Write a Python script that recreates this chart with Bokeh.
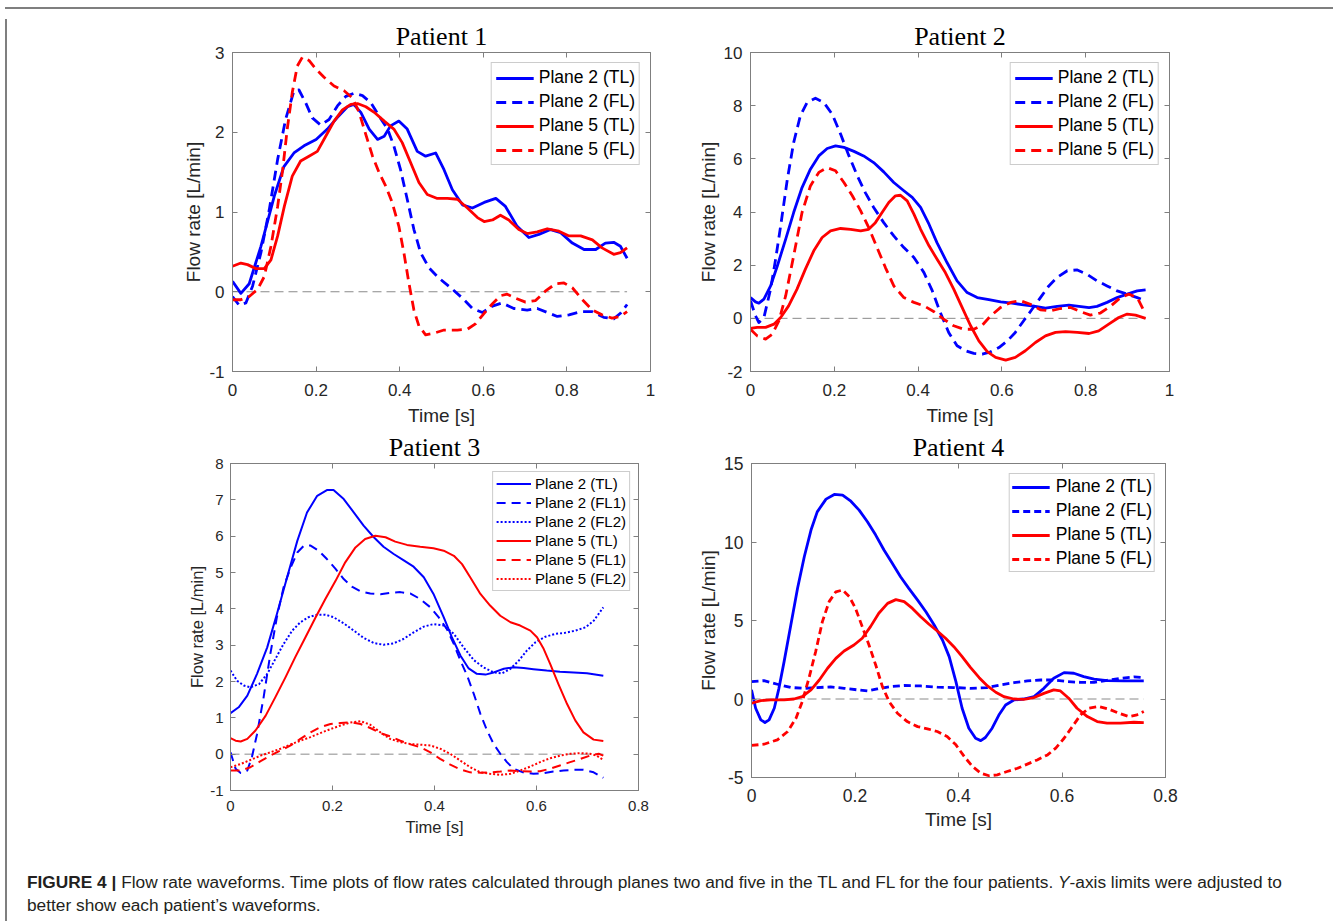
from bokeh.plotting import figure
from bokeh.models import Range1d, FixedTicker, LinearAxis, Title, Div, Spacer
from bokeh.layouts import column, row
from bokeh.embed import file_html
from bokeh.resources import INLINE

SANS = "Liberation Sans"
SERIF = "Liberation Serif"
AXC = "#7f7f7f"
TXT = "#262626"
BLUE = "#0000ff"
RED = "#ff0000"
ZERO_LEVEL = 0.0

# ---------------- data (time [s], flow rate [L/min]) ----------------
p1_p2tl = [(0, 0.13), (0.02, -0.02), (0.04, 0.1), (0.068, 0.57), (0.1, 1.2), (0.123, 1.57), (0.147, 1.74), (0.171, 1.83), (0.2, 1.91), (0.227, 2.04), (0.25, 2.18), (0.275, 2.32), (0.29, 2.35), (0.307, 2.25), (0.327, 2.04), (0.347, 1.91), (0.363, 1.95), (0.378, 2.08), (0.398, 2.14), (0.418, 2.04), (0.442, 1.76), (0.462, 1.70), (0.486, 1.74), (0.506, 1.53), (0.526, 1.28), (0.55, 1.09), (0.574, 1.05), (0.602, 1.12), (0.63, 1.17), (0.653, 1.07), (0.681, 0.82), (0.709, 0.68), (0.733, 0.72), (0.761, 0.78), (0.785, 0.74), (0.813, 0.61), (0.841, 0.53), (0.869, 0.53), (0.892, 0.61), (0.912, 0.62), (0.928, 0.57), (0.944, 0.42)]
p1_p2fl = [(0, -0.06), (0.016, -0.17), (0.032, -0.14), (0.048, 0.07), (0.068, 0.49), (0.088, 1.03), (0.108, 1.66), (0.127, 2.16), (0.147, 2.52), (0.159, 2.53), (0.175, 2.37), (0.191, 2.18), (0.211, 2.09), (0.231, 2.16), (0.251, 2.33), (0.271, 2.45), (0.291, 2.49), (0.311, 2.46), (0.331, 2.37), (0.351, 2.2), (0.371, 2.04), (0.386, 1.83), (0.402, 1.53), (0.418, 1.16), (0.434, 0.78), (0.45, 0.49), (0.47, 0.30), (0.494, 0.17), (0.522, 0.05), (0.55, -0.08), (0.574, -0.21), (0.598, -0.26), (0.622, -0.18), (0.645, -0.14), (0.673, -0.21), (0.705, -0.23), (0.729, -0.21), (0.753, -0.26), (0.777, -0.31), (0.805, -0.29), (0.833, -0.25), (0.861, -0.25), (0.888, -0.32), (0.912, -0.34), (0.928, -0.27), (0.944, -0.16)]
p1_p5tl = [(0, 0.32), (0.02, 0.36), (0.036, 0.34), (0.056, 0.29), (0.076, 0.29), (0.092, 0.4), (0.108, 0.70), (0.124, 1.07), (0.143, 1.45), (0.163, 1.64), (0.183, 1.70), (0.203, 1.76), (0.223, 1.95), (0.243, 2.14), (0.263, 2.28), (0.283, 2.35), (0.299, 2.36), (0.319, 2.32), (0.339, 2.25), (0.363, 2.14), (0.386, 2.04), (0.406, 1.87), (0.426, 1.62), (0.446, 1.37), (0.466, 1.22), (0.49, 1.17), (0.514, 1.17), (0.538, 1.16), (0.562, 1.05), (0.586, 0.93), (0.602, 0.88), (0.622, 0.90), (0.641, 0.96), (0.661, 0.90), (0.685, 0.78), (0.705, 0.73), (0.729, 0.75), (0.753, 0.79), (0.781, 0.76), (0.805, 0.70), (0.833, 0.70), (0.861, 0.65), (0.884, 0.55), (0.912, 0.47), (0.928, 0.49), (0.944, 0.55)]
p1_p5fl = [(0, -0.10), (0.02, -0.10), (0.04, -0.06), (0.06, 0.03), (0.076, 0.19), (0.092, 0.57), (0.108, 1.07), (0.12, 1.53), (0.131, 2.04), (0.143, 2.50), (0.155, 2.83), (0.167, 2.94), (0.183, 2.90), (0.2, 2.79), (0.219, 2.69), (0.243, 2.58), (0.267, 2.52), (0.287, 2.43), (0.303, 2.25), (0.319, 1.97), (0.335, 1.70), (0.351, 1.49), (0.367, 1.32), (0.382, 1.12), (0.398, 0.82), (0.41, 0.49), (0.422, 0.11), (0.434, -0.23), (0.446, -0.43), (0.462, -0.54), (0.482, -0.52), (0.506, -0.48), (0.538, -0.48), (0.562, -0.47), (0.582, -0.40), (0.602, -0.27), (0.622, -0.15), (0.641, -0.05), (0.657, -0.03), (0.677, -0.08), (0.701, -0.13), (0.725, -0.11), (0.749, 0.01), (0.773, 0.10), (0.793, 0.11), (0.813, 0.05), (0.837, -0.10), (0.861, -0.23), (0.884, -0.29), (0.908, -0.33), (0.928, -0.31), (0.944, -0.25)]

p2_p2tl = [(0, 0.78), (0.012, 0.62), (0.02, 0.57), (0.032, 0.72), (0.048, 1.22), (0.064, 1.97), (0.084, 2.98), (0.103, 3.98), (0.123, 4.92), (0.143, 5.61), (0.163, 6.11), (0.183, 6.39), (0.203, 6.49), (0.223, 6.43), (0.247, 6.28), (0.27, 6.11), (0.294, 5.86), (0.318, 5.51), (0.342, 5.11), (0.366, 4.80), (0.386, 4.55), (0.406, 4.17), (0.426, 3.54), (0.445, 2.85), (0.469, 2.10), (0.493, 1.41), (0.517, 0.97), (0.541, 0.78), (0.569, 0.70), (0.597, 0.62), (0.624, 0.57), (0.652, 0.51), (0.68, 0.45), (0.704, 0.38), (0.732, 0.45), (0.76, 0.50), (0.784, 0.45), (0.808, 0.40), (0.827, 0.45), (0.851, 0.60), (0.875, 0.78), (0.899, 0.91), (0.923, 1.03), (0.943, 1.07)]
p2_p2fl = [(0, 0.66), (0.012, 0.09), (0.02, -0.16), (0.032, 0.03), (0.048, 1.10), (0.06, 2.23), (0.072, 3.48), (0.088, 5.24), (0.103, 6.61), (0.119, 7.62), (0.135, 8.12), (0.155, 8.28), (0.175, 8.12), (0.195, 7.68), (0.215, 6.93), (0.235, 6.11), (0.255, 5.36), (0.274, 4.73), (0.294, 4.17), (0.318, 3.60), (0.342, 3.10), (0.366, 2.66), (0.39, 2.29), (0.414, 1.72), (0.434, 1.03), (0.453, 0.22), (0.473, -0.53), (0.493, -1.03), (0.513, -1.22), (0.533, -1.32), (0.553, -1.35), (0.573, -1.26), (0.593, -1.10), (0.613, -0.85), (0.632, -0.53), (0.652, -0.09), (0.672, 0.34), (0.692, 0.78), (0.712, 1.22), (0.732, 1.54), (0.756, 1.79), (0.78, 1.82), (0.803, 1.66), (0.827, 1.41), (0.851, 1.22), (0.875, 1.03), (0.899, 0.91), (0.923, 0.78), (0.943, 0.66)]
p2_p5tl = [(0, -0.38), (0.016, -0.34), (0.036, -0.34), (0.056, -0.22), (0.072, 0.03), (0.091, 0.47), (0.111, 1.10), (0.131, 1.85), (0.151, 2.54), (0.171, 3.04), (0.191, 3.29), (0.215, 3.38), (0.239, 3.35), (0.263, 3.29), (0.282, 3.35), (0.298, 3.60), (0.314, 3.98), (0.33, 4.36), (0.346, 4.61), (0.358, 4.63), (0.374, 4.42), (0.39, 3.92), (0.406, 3.35), (0.426, 2.73), (0.445, 2.23), (0.465, 1.72), (0.485, 1.10), (0.505, 0.41), (0.525, -0.27), (0.545, -0.85), (0.565, -1.25), (0.585, -1.47), (0.609, -1.57), (0.632, -1.47), (0.656, -1.22), (0.68, -0.91), (0.704, -0.66), (0.728, -0.53), (0.752, -0.50), (0.78, -0.53), (0.808, -0.57), (0.831, -0.47), (0.855, -0.22), (0.879, 0.03), (0.899, 0.16), (0.919, 0.12), (0.943, 0.0)]
p2_p5fl = [(0, -0.41), (0.016, -0.66), (0.036, -0.78), (0.052, -0.60), (0.068, -0.09), (0.084, 0.85), (0.103, 2.35), (0.123, 3.98), (0.143, 4.98), (0.163, 5.49), (0.183, 5.67), (0.203, 5.55), (0.223, 5.11), (0.243, 4.61), (0.263, 4.04), (0.282, 3.42), (0.302, 2.66), (0.322, 1.91), (0.342, 1.22), (0.366, 0.78), (0.39, 0.60), (0.414, 0.47), (0.438, 0.25), (0.461, -0.03), (0.485, -0.28), (0.509, -0.41), (0.533, -0.41), (0.553, -0.26), (0.573, 0.09), (0.597, 0.41), (0.621, 0.60), (0.644, 0.66), (0.668, 0.53), (0.692, 0.32), (0.716, 0.28), (0.74, 0.37), (0.764, 0.41), (0.788, 0.25), (0.811, 0.12), (0.835, 0.20), (0.859, 0.45), (0.883, 0.78), (0.903, 0.91), (0.923, 0.78), (0.939, 0.28)]

p3_p2tl = [(0, 1.13), (0.016, 1.29), (0.033, 1.61), (0.052, 2.21), (0.072, 2.94), (0.091, 3.86), (0.111, 4.87), (0.131, 5.87), (0.15, 6.65), (0.17, 7.11), (0.189, 7.27), (0.202, 7.27), (0.222, 7.02), (0.242, 6.65), (0.261, 6.29), (0.281, 5.97), (0.3, 5.71), (0.32, 5.51), (0.339, 5.34), (0.359, 5.16), (0.379, 4.87), (0.398, 4.41), (0.418, 3.77), (0.434, 3.22), (0.451, 2.71), (0.467, 2.36), (0.483, 2.21), (0.5, 2.19), (0.516, 2.25), (0.536, 2.35), (0.555, 2.39), (0.575, 2.37), (0.594, 2.34), (0.62, 2.30), (0.646, 2.27), (0.673, 2.25), (0.699, 2.23), (0.731, 2.16)]
p3_p2fl1 = [(0, 0.05), (0.01, -0.40), (0.02, -0.52), (0.033, -0.45), (0.042, -0.08), (0.052, 0.55), (0.065, 1.57), (0.078, 2.75), (0.091, 3.77), (0.104, 4.59), (0.118, 5.14), (0.131, 5.55), (0.144, 5.74), (0.157, 5.74), (0.173, 5.60), (0.189, 5.37), (0.206, 5.10), (0.222, 4.82), (0.238, 4.61), (0.255, 4.48), (0.274, 4.42), (0.294, 4.40), (0.313, 4.44), (0.333, 4.46), (0.353, 4.42), (0.372, 4.27), (0.392, 4.04), (0.408, 3.77), (0.424, 3.45), (0.438, 3.03), (0.451, 2.57), (0.464, 2.16), (0.477, 1.66), (0.49, 1.11), (0.503, 0.65), (0.516, 0.28), (0.529, 0.01), (0.542, -0.22), (0.555, -0.40), (0.575, -0.51), (0.594, -0.54), (0.614, -0.52), (0.633, -0.48), (0.653, -0.45), (0.673, -0.43), (0.692, -0.43), (0.712, -0.50), (0.731, -0.65)]
p3_p2fl2 = [(0, 2.30), (0.013, 2.02), (0.026, 1.89), (0.039, 1.84), (0.056, 1.93), (0.072, 2.21), (0.088, 2.62), (0.104, 3.03), (0.121, 3.40), (0.137, 3.63), (0.153, 3.77), (0.17, 3.84), (0.186, 3.84), (0.202, 3.77), (0.222, 3.60), (0.242, 3.40), (0.261, 3.20), (0.281, 3.06), (0.3, 3.01), (0.32, 3.05), (0.339, 3.17), (0.359, 3.35), (0.379, 3.51), (0.398, 3.58), (0.418, 3.54), (0.438, 3.31), (0.457, 2.94), (0.477, 2.59), (0.496, 2.39), (0.516, 2.25), (0.532, 2.22), (0.549, 2.35), (0.565, 2.57), (0.581, 2.85), (0.598, 3.08), (0.617, 3.23), (0.637, 3.31), (0.656, 3.34), (0.676, 3.40), (0.696, 3.49), (0.712, 3.67), (0.731, 4.04)]
p3_p5tl = [(0, 0.44), (0.01, 0.37), (0.02, 0.35), (0.033, 0.42), (0.049, 0.65), (0.069, 1.06), (0.088, 1.57), (0.108, 2.12), (0.127, 2.67), (0.147, 3.22), (0.167, 3.77), (0.186, 4.27), (0.206, 4.77), (0.225, 5.28), (0.245, 5.69), (0.264, 5.92), (0.284, 6.01), (0.304, 5.97), (0.323, 5.85), (0.346, 5.76), (0.372, 5.71), (0.398, 5.67), (0.418, 5.60), (0.438, 5.46), (0.454, 5.23), (0.47, 4.87), (0.49, 4.41), (0.509, 4.09), (0.529, 3.81), (0.549, 3.63), (0.568, 3.54), (0.588, 3.40), (0.601, 3.22), (0.614, 2.90), (0.627, 2.48), (0.643, 1.93), (0.66, 1.38), (0.676, 0.93), (0.692, 0.60), (0.712, 0.40), (0.731, 0.36)]
p3_p5fl1 = [(0, -0.45), (0.02, -0.45), (0.039, -0.36), (0.059, -0.19), (0.078, -0.04), (0.098, 0.10), (0.118, 0.24), (0.137, 0.42), (0.157, 0.60), (0.176, 0.74), (0.196, 0.83), (0.216, 0.86), (0.235, 0.88), (0.255, 0.83), (0.274, 0.72), (0.294, 0.58), (0.313, 0.49), (0.333, 0.37), (0.353, 0.27), (0.372, 0.19), (0.392, 0.05), (0.411, -0.13), (0.431, -0.29), (0.451, -0.42), (0.47, -0.50), (0.49, -0.51), (0.509, -0.50), (0.529, -0.48), (0.549, -0.45), (0.568, -0.47), (0.588, -0.48), (0.607, -0.47), (0.627, -0.40), (0.646, -0.31), (0.666, -0.22), (0.686, -0.13), (0.705, -0.04), (0.722, 0.01), (0.731, -0.04)]
p3_p5fl2 = [(0, -0.36), (0.02, -0.27), (0.039, -0.16), (0.059, -0.04), (0.078, 0.05), (0.098, 0.15), (0.118, 0.27), (0.137, 0.37), (0.157, 0.47), (0.176, 0.58), (0.196, 0.69), (0.216, 0.79), (0.235, 0.87), (0.255, 0.91), (0.274, 0.81), (0.294, 0.60), (0.313, 0.42), (0.333, 0.33), (0.353, 0.28), (0.372, 0.26), (0.392, 0.24), (0.411, 0.15), (0.431, 0.01), (0.451, -0.18), (0.47, -0.36), (0.49, -0.50), (0.509, -0.54), (0.529, -0.57), (0.549, -0.54), (0.568, -0.45), (0.588, -0.34), (0.607, -0.22), (0.627, -0.11), (0.646, -0.04), (0.666, 0.01), (0.686, 0.03), (0.705, 0.01), (0.718, -0.04), (0.731, -0.16)]

p4_p2tl = [(0, 0.58), (0.008, -0.59), (0.018, -1.33), (0.026, -1.50), (0.034, -1.33), (0.044, -0.59), (0.053, 0.68), (0.063, 2.38), (0.076, 4.71), (0.089, 7.05), (0.102, 9.06), (0.115, 10.76), (0.127, 11.92), (0.144, 12.73), (0.16, 13.03), (0.176, 12.99), (0.192, 12.60), (0.208, 12.03), (0.224, 11.29), (0.24, 10.44), (0.256, 9.49), (0.272, 8.64), (0.288, 7.79), (0.304, 7.05), (0.321, 6.30), (0.337, 5.56), (0.353, 4.71), (0.369, 3.76), (0.382, 2.70), (0.395, 1.11), (0.407, -0.59), (0.42, -1.86), (0.433, -2.50), (0.443, -2.65), (0.452, -2.45), (0.465, -1.86), (0.478, -1.02), (0.491, -0.38), (0.507, -0.06), (0.526, 0.0), (0.546, 0.15), (0.565, 0.68), (0.584, 1.32), (0.604, 1.68), (0.623, 1.64), (0.642, 1.43), (0.662, 1.26), (0.687, 1.17), (0.72, 1.15), (0.758, 1.15)]
p4_p2fl = [(0, 1.11), (0.024, 1.17), (0.05, 0.94), (0.076, 0.73), (0.102, 0.68), (0.127, 0.73), (0.153, 0.77), (0.179, 0.68), (0.205, 0.58), (0.224, 0.51), (0.243, 0.64), (0.269, 0.79), (0.295, 0.86), (0.327, 0.83), (0.359, 0.75), (0.391, 0.73), (0.423, 0.68), (0.456, 0.73), (0.481, 0.90), (0.507, 1.04), (0.533, 1.15), (0.559, 1.21), (0.584, 1.21), (0.61, 1.11), (0.636, 1.06), (0.662, 1.06), (0.687, 1.19), (0.713, 1.32), (0.739, 1.41), (0.758, 1.36)]
p4_p5tl = [(0, -0.27), (0.018, -0.10), (0.037, -0.06), (0.063, -0.06), (0.082, 0.0), (0.098, 0.15), (0.115, 0.58), (0.131, 1.21), (0.147, 1.96), (0.163, 2.59), (0.179, 3.06), (0.198, 3.44), (0.214, 3.87), (0.23, 4.61), (0.246, 5.46), (0.263, 6.09), (0.279, 6.33), (0.295, 6.20), (0.311, 5.77), (0.327, 5.24), (0.343, 4.76), (0.359, 4.33), (0.375, 3.87), (0.391, 3.33), (0.407, 2.70), (0.423, 2.02), (0.44, 1.36), (0.456, 0.83), (0.472, 0.43), (0.488, 0.15), (0.507, 0.0), (0.526, -0.02), (0.546, 0.09), (0.565, 0.36), (0.584, 0.58), (0.597, 0.51), (0.613, 0.05), (0.629, -0.59), (0.649, -1.12), (0.668, -1.44), (0.687, -1.54), (0.713, -1.54), (0.739, -1.48), (0.758, -1.50)]
p4_p5fl = [(0, -2.96), (0.024, -2.88), (0.05, -2.60), (0.07, -2.07), (0.086, -1.22), (0.098, -0.17), (0.111, 1.32), (0.124, 3.02), (0.137, 4.93), (0.15, 6.20), (0.163, 6.83), (0.176, 6.94), (0.189, 6.52), (0.201, 5.77), (0.214, 4.61), (0.227, 3.44), (0.24, 2.17), (0.253, 0.79), (0.266, -0.17), (0.282, -0.91), (0.301, -1.44), (0.321, -1.76), (0.34, -1.90), (0.359, -2.07), (0.378, -2.39), (0.395, -2.92), (0.411, -3.66), (0.427, -4.30), (0.443, -4.72), (0.459, -4.89), (0.475, -4.83), (0.494, -4.62), (0.514, -4.41), (0.533, -4.15), (0.552, -3.88), (0.572, -3.56), (0.588, -3.13), (0.604, -2.50), (0.62, -1.76), (0.636, -1.01), (0.652, -0.59), (0.671, -0.48), (0.691, -0.65), (0.71, -0.91), (0.729, -1.12), (0.745, -1.01), (0.758, -0.80)]

# ticks
x_ticks_1 = [0, 0.2, 0.4, 0.6, 0.8, 1]
x_labels_1 = ["0", "0.2", "0.4", "0.6", "0.8", "1"]
x_ticks_08 = [0, 0.2, 0.4, 0.6, 0.8]
x_labels_08 = ["0", "0.2", "0.4", "0.6", "0.8"]
y_ticks_p1 = [-1, 0, 1, 2, 3]
y_ticks_p2 = [-2, 0, 2, 4, 6, 8, 10]
y_ticks_p3 = [-1, 0, 1, 2, 3, 4, 5, 6, 7, 8]
y_ticks_p4 = [-5, 0, 5, 10, 15]

titles = ["Patient 1", "Patient 2", "Patient 3", "Patient 4"]
x_label = "Time [s]"
y_label = "Flow rate [L/min]"


def style_axis(ax, ticks, labels, size, show, standoff, label_standoff, label_size):
    ax.ticker = FixedTicker(ticks=ticks)
    ax.major_tick_in = 5
    ax.major_tick_out = 0
    ax.major_tick_line_color = AXC
    ax.minor_tick_line_color = None
    ax.axis_line_color = AXC
    ax.major_label_text_font = SANS
    ax.major_label_text_color = TXT
    ax.major_label_text_font_size = size
    ax.axis_label_text_font = SANS
    ax.axis_label_text_font_style = "normal"
    ax.axis_label_text_color = TXT
    ax.axis_label_text_font_size = label_size
    ax.axis_label_standoff = label_standoff
    if show:
        ax.major_label_overrides = {t: l for t, l in zip(ticks, labels)}
        ax.major_label_standoff = standoff
    else:
        ax.major_label_overrides = {t: "" for t in ticks}
        ax.major_label_standoff = 0


def make_panel(title, xr, yr, xt, xl, yt, series, g, st):
    p = figure(
        x_range=Range1d(*xr), y_range=Range1d(*yr),
        frame_width=g["fw"], frame_height=g["fh"],
        min_border_left=g["l"], min_border_right=g["r"],
        min_border_top=g["t"], min_border_bottom=g["b"],
        output_backend="svg", toolbar_location=None, title_location=None,
        background_fill_color="white", border_fill_color="white",
    )
    p.outline_line_color = AXC
    p.outline_line_width = 1
    p.grid.visible = False
    ylab = [str(v) for v in yt]
    style_axis(p.xaxis[0], xt, xl, st["tick"], True, st["xstand"], st["xlstand"], st["label"])
    style_axis(p.yaxis[0], yt, ylab, st["tick"], True, st["ystand"], st["ylstand"], st["label"])
    p.xaxis.axis_label = x_label
    p.yaxis.axis_label = y_label
    top = LinearAxis()
    style_axis(top, xt, xl, st["tick"], False, 0, 0, st["label"])
    right = LinearAxis()
    style_axis(right, yt, ylab, st["tick"], False, 0, 0, st["label"])
    p.add_layout(top, "above")
    p.add_layout(right, "right")
    p.add_layout(Title(text=title, align="center", text_font=SERIF, text_font_size="26px",
                       text_font_style="normal", text_color="black", standoff=st["tstand"]), "above")

    t_end = max(pt[0] for s in series for pt in s[1])
    t_start = min(pt[0] for s in series for pt in s[1])
    p.line([t_start, t_end], [ZERO_LEVEL, ZERO_LEVEL], line_color="#8a8a8a", line_width=1, line_dash="9 5")
    for label, pts, color, dash in series:
        p.line([q[0] for q in pts], [q[1] for q in pts], line_color=color, line_width=st["lw"],
               line_dash=dash, line_join="round", legend_label=label)
    lg = p.legend[0]
    lg.location = "top_right"
    lg.margin = st["lmargin"]
    lg.border_line_color = "#9a9a9a"
    lg.border_line_width = 1
    lg.background_fill_color = "white"
    lg.background_fill_alpha = 1
    lg.label_text_font = SANS
    lg.label_text_font_size = st["ltext"]
    lg.label_text_color = "black"
    lg.glyph_width = st["gw"]
    lg.glyph_height = st["lh"]
    lg.label_height = st["lh"]
    lg.spacing = st["lsp"]
    lg.padding = st["lpad"]
    lg.label_standoff = st["lstand"]
    return p


big = dict(tick="17px", label="19px", xstand=12, xlstand=6, ystand=8, ylstand=2, tstand=4,
           lw=2.8, lmargin=10, ltext="17.5px", gw=38, lh=20, lsp=3, lpad=4, lstand=5)
small = dict(tick="15px", label="16.5px", xstand=10, xlstand=4, ystand=7, ylstand=1, tstand=3,
             lw=2.0, lmargin=8, ltext="15px", gw=35, lh=17, lsp=2, lpad=3, lstand=4)
big4 = dict(big, tick="17.5px", lh=20, lsp=3, lpad=2, lstand=6, xstand=11, xlstand=4)

s1 = [("Plane 2 (TL)", p1_p2tl, BLUE, "solid"), ("Plane 2 (FL)", p1_p2fl, BLUE, "10 6"),
      ("Plane 5 (TL)", p1_p5tl, RED, "solid"), ("Plane 5 (FL)", p1_p5fl, RED, "10 6")]
s2 = [("Plane 2 (TL)", p2_p2tl, BLUE, "solid"), ("Plane 2 (FL)", p2_p2fl, BLUE, "10 6"),
      ("Plane 5 (TL)", p2_p5tl, RED, "solid"), ("Plane 5 (FL)", p2_p5fl, RED, "10 6")]
s3 = [("Plane 2 (TL)", p3_p2tl, BLUE, "solid"), ("Plane 2 (FL1)", p3_p2fl1, BLUE, "9 6"),
      ("Plane 2 (FL2)", p3_p2fl2, BLUE, "2 2"), ("Plane 5 (TL)", p3_p5tl, RED, "solid"),
      ("Plane 5 (FL1)", p3_p5fl1, RED, "9 6"), ("Plane 5 (FL2)", p3_p5fl2, RED, "2 2")]
s4 = [("Plane 2 (TL)", p4_p2tl, BLUE, "solid"), ("Plane 2 (FL)", p4_p2fl, BLUE, "7 4"),
      ("Plane 5 (TL)", p4_p5tl, RED, "solid"), ("Plane 5 (FL)", p4_p5fl, RED, "7 4")]

f1 = make_panel(titles[0], (0, 1), (-1, 3), x_ticks_1, x_labels_1, y_ticks_p1, s1,
                dict(l=220, fw=418, r=40, t=38, fh=319, b=53), big)
f2 = make_panel(titles[1], (0, 1), (-2, 10), x_ticks_1, x_labels_1, y_ticks_p2, s2,
                dict(l=60, fw=419, r=20, t=38, fh=319, b=53), big)
f3 = make_panel(titles[2], (0, 0.8), (-1, 8), x_ticks_08, x_labels_08, y_ticks_p3, s3,
                dict(l=218, fw=408, r=54, t=34, fh=327, b=54), small)
f4 = make_panel(titles[3], (0, 0.8), (-5, 15), x_ticks_08, x_labels_08, y_ticks_p4, s4,
                dict(l=59, fw=414, r=22, t=33, fh=314, b=67), big4)

caption = Div(
    text='<b>FIGURE 4 |</b> Flow rate waveforms. Time plots of flow rates calculated through planes two and five '
         'in the TL and FL for the four patients. <i>Y</i>-axis limits were adjusted to<br>'
         'better show each patient\u2019s waveforms.',
    width=1310, height=44, margin=(27, 0, 0, 15),
    styles={"font-family": SANS, "font-size": "17.3px", "line-height": "23px", "color": "#231f20",
            "overflow": "hidden", "white-space": "nowrap"},
)

top_line = Div(text="", width=1328, height=2, styles={"background-color": "#7f7f7f"})
left_line = Div(text="", width=2, height=902, styles={"background-color": "#7f7f7f"})

content = column(row(f1, f2), row(f3, f4), caption)
root = column(Spacer(width=10, height=2), top_line, row(left_line, content))

open("out.html", "w").write(file_html(root, INLINE))
